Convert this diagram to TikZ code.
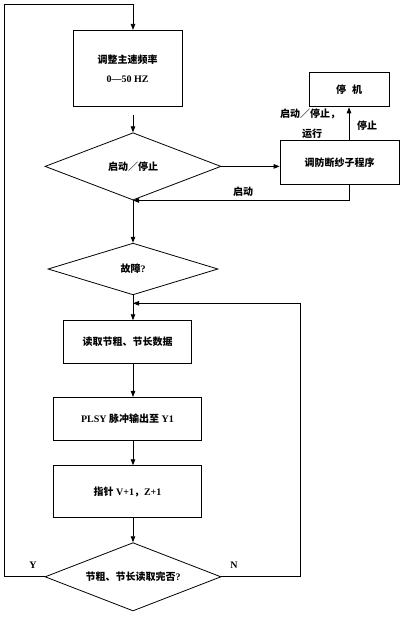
\documentclass[tikz,border=0pt]{standalone}
\usepackage{fontspec}
\setmainfont{Liberation Serif}
\newfontfamily\cjk{Noto Sans CJK SC}
\usetikzlibrary{shapes.geometric,arrows.meta}

\tikzset{
  box/.style={draw,rectangle,line width=0.8pt,inner sep=0pt,align=center},
  ask/.style={draw,diamond,line width=0.8pt,inner sep=0pt,aspect=2.6},
  lbl/.style={inner sep=0pt},
  flow/.style={line width=0.8pt,-{Triangle[length=6pt,width=4.5pt]}},
}

\begin{document}
\begin{tikzpicture}[x=1pt,y=-1pt,font=\fontsize{10}{12}\selectfont\bfseries]
        \useasboundingbox (0,0) rectangle (400,620);

        \coordinate (adjc) at (127.5,68.3);
        \coordinate (swc)  at (133,166.4);
        \coordinate (brkc) at (339.5,162.4);
        \coordinate (stpc) at (349,89.7);
        \coordinate (fltc) at (133,269);
        \coordinate (rdc)  at (127.5,342);
        \coordinate (plsc) at (127.5,418.7);
        \coordinate (ptrc) at (127.5,491.5);
        \coordinate (finc) at (133,576.8);
        \coordinate (ltop) at (4,4);
        \coordinate (nr)   at (300,303.3);

        \node[box,minimum width=109pt,minimum height=76pt] (adj) at (adjc)
            {{\cjk 调整主速频率}\\[7pt]0---50 HZ};
        \node[ask,minimum width=176pt,minimum height=67.3pt] (sw) at (swc) {\cjk 启动／停止};
        \node[box,minimum width=119pt,minimum height=43.3pt] (brk) at (brkc) {\cjk 调防断纱子程序};
        \node[box,minimum width=80pt,minimum height=34.4pt] (stp) at (stpc) {\cjk 停\hspace{6pt}机};
        \node[ask,minimum width=170pt,minimum height=51.7pt] (flt) at (fltc) {{\cjk 故障}?};
        \node[box,minimum width=128.4pt,minimum height=42.6pt] (rd) at (rdc) {\cjk 读取节粗、节长数据};
        \node[box,minimum width=148.4pt,minimum height=42.7pt] (pls) at (plsc) {PLSY {\cjk 脉冲输出至} Y1};
        \node[box,minimum width=148.4pt,minimum height=51.6pt] (ptr) at (ptrc) {{\cjk 指针} V+1{\cjk ，}Z+1};
        \node[ask,minimum width=176pt,minimum height=68.3pt] (fin) at (finc) {{\cjk 节粗、节长读取完否}?};

        \node[lbl] (lrun1) at (310,114) {\cjk 启动／停止，};
        \node[lbl] (lrun2) at (312,134) {\cjk 运行};
        \node[lbl] (lstop) at (367,126) {\cjk 停止};
        \node[lbl] (lgo)   at (243,192) {\cjk 启动};
        \node[lbl] (ly)    at (33,565) {Y};
        \node[lbl] (ln)    at (234,565) {N};

        \draw[flow] (fin.west) -| (ltop) -| (adj.north -| fin.north);
        \draw[flow,shorten <=8pt] (adj.south -| sw.north) -- (sw.north);
        \draw[flow] (sw.east) -- (sw.east -| brk.west);
        \draw[flow] (stp.south |- brk.north) -- (stp.south);
        \draw[flow] (stp.south |- brk.south) |- (sw.south);
        \draw[flow] (sw.south) -- (flt.north);
        \draw[flow] (flt.south) -- (rd.north -| flt.south);
        \draw[flow] (fin.east) -| (nr) -- (nr -| flt.south);
        \draw[flow] (rd.south -| fin.north) -- (pls.north -| fin.north);
        \draw[flow] (pls.south -| fin.north) -- (ptr.north -| fin.north);
        \draw[flow] (ptr.south -| fin.north) -- (fin.north);
    \end{tikzpicture}
\end{document}
